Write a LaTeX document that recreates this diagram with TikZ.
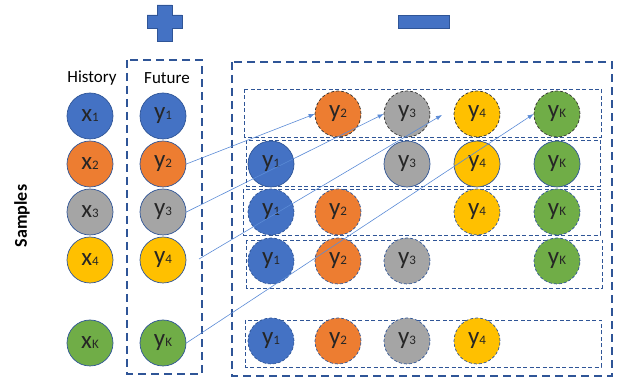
\documentclass[tikz,border=0pt]{standalone}
\usepackage{fontspec}
\setmainfont{Carlito}
\usepackage{tikz}
\usetikzlibrary{arrows.meta}

\definecolor{cblue}{HTML}{4472C4}
\definecolor{corange}{HTML}{ED7D31}
\definecolor{cgrey}{HTML}{A5A5A5}
\definecolor{cgold}{HTML}{FFC000}
\definecolor{cgreen}{HTML}{70AD47}
\definecolor{edgeblue}{HTML}{2F5597}
\definecolor{arrowblue}{HTML}{5B8BD6}

\newcommand{\sublab}[2]{{\fontsize{25}{25}\selectfont #1}{\fontsize{13}{13}\selectfont #2}}

\begin{document}
\begin{tikzpicture}[x=1pt, y=-1pt,
                    main/.style = {draw=edgeblue, circle, minimum size=46pt, inner sep=0pt, line width=0.7pt, text=black!85},
                    bluenode/.style={main, fill=cblue},
                    orangenode/.style={main, fill=corange},
                    greynode/.style={main, fill=cgrey},
                    goldnode/.style={main, fill=cgold},
                    greennode/.style={main, fill=cgreen},
                    blackdash/.style={draw=black!80, dash pattern=on 3pt off 2pt},
                    bluedash/.style={dash pattern=on 3pt off 2pt},
                    bigbox/.style={draw=edgeblue, line width=2.2pt, dash pattern=on 8pt off 5pt},
                    rowbox/.style={draw=edgeblue, line width=0.8pt, dash pattern=on 4pt off 2.5pt},
                    link/.style={draw=arrowblue, line width=0.6pt, -{Latex[length=6pt, width=4.5pt]}}]
        \useasboundingbox (0,0) rectangle (622,379);

        % plus and minus signs
        \fill[cblue, draw=edgeblue, line width=0.5pt] (157,5) -- (172,5) -- (172,15) -- (182,15) -- (182,28) -- (172,28) -- (172,41) -- (157,41) -- (157,28) -- (147,28) -- (147,15) -- (157,15) -- cycle;
        \fill[cblue, draw=edgeblue, line width=0.5pt] (398,15) rectangle (449,28);

        % labels
        \node (hist) at (92,78) {\fontsize{17}{17}\selectfont History};
        \node (fut) at (167,78) {\fontsize{17}{17}\selectfont Future};
        \node[rotate=90] (samp) at (22,216) {\fontsize{18}{18}\selectfont\bfseries Samples};

        % boxes
        \draw[bigbox] (127,60) rectangle (202,374);
        \draw[bigbox] (232,62) rectangle (612,376);
        \draw[rowbox] (244,89) rectangle (601,137);
        \draw[rowbox] (246,140) rectangle (600,186);
        \draw[rowbox] (243,189) rectangle (600,235);
        \draw[rowbox] (246,240) rectangle (602,288);
        \draw[rowbox] (245,320) rectangle (601,367);

        % history
        \node[bluenode] (h1) at (90,116) {\sublab{x}{1}};
        \node[orangenode] (h2) at (90,164) {\sublab{x}{2}};
        \node[greynode] (h3) at (90,212) {\sublab{x}{3}};
        \node[goldnode] (h4) at (90,260) {\sublab{x}{4}};
        \node[greennode] (hK) at (90,343) {\sublab{x}{K}};

        % future
        \node[bluenode] (f1) at (163,116) {\sublab{y}{1}};
        \node[orangenode] (f2) at (163,164) {\sublab{y}{2}};
        \node[greynode] (f3) at (163,212) {\sublab{y}{3}};
        \node[goldnode] (f4) at (163,260) {\sublab{y}{4}};
        \node[greennode] (fK) at (163,343) {\sublab{y}{K}};

        % negatives, row 1
        \node[orangenode, blackdash] (a2) at (338,114) {\sublab{y}{2}};
        \node[greynode, blackdash] (a3) at (407,114) {\sublab{y}{3}};
        \node[goldnode, blackdash] (a4) at (477,114) {\sublab{y}{4}};
        \node[greennode, blackdash] (aK) at (557,114) {\sublab{y}{K}};

        % row 2
        \node[bluenode] (b1) at (271,164) {\sublab{y}{1}};
        \node[greynode] (b3) at (407,164) {\sublab{y}{3}};
        \node[goldnode] (b4) at (477,164) {\sublab{y}{4}};
        \node[greennode] (bK) at (557,164) {\sublab{y}{K}};

        % row 3
        \node[bluenode, bluedash] (c1) at (271,212) {\sublab{y}{1}};
        \node[orangenode, bluedash] (c2) at (338,212) {\sublab{y}{2}};
        \node[goldnode, bluedash] (c4) at (477,212) {\sublab{y}{4}};
        \node[greennode, bluedash] (cK) at (557,212) {\sublab{y}{K}};

        % row 4
        \node[bluenode, bluedash] (d1) at (271,261) {\sublab{y}{1}};
        \node[orangenode, bluedash] (d2) at (338,261) {\sublab{y}{2}};
        \node[greynode, bluedash] (d3) at (407,261) {\sublab{y}{3}};
        \node[greennode, bluedash] (dK) at (557,261) {\sublab{y}{K}};

        % row 5
        \node[bluenode, bluedash] (e1) at (271,341) {\sublab{y}{1}};
        \node[orangenode, bluedash] (e2) at (338,341) {\sublab{y}{2}};
        \node[greynode, bluedash] (e3) at (407,341) {\sublab{y}{3}};
        \node[goldnode, bluedash] (e4) at (477,341) {\sublab{y}{4}};

        % links
        \coordinate (s4) at (199,259);
        \coordinate (t4) at (442,115);
        \draw[link] (f2.east) -- (a2.west);
        \draw[link] (f3.east) -- (a3.west);
        \draw[link] (s4) -- (t4);
        \draw[link] (fK.east) -- (aK.west);
    \end{tikzpicture}
\end{document}
